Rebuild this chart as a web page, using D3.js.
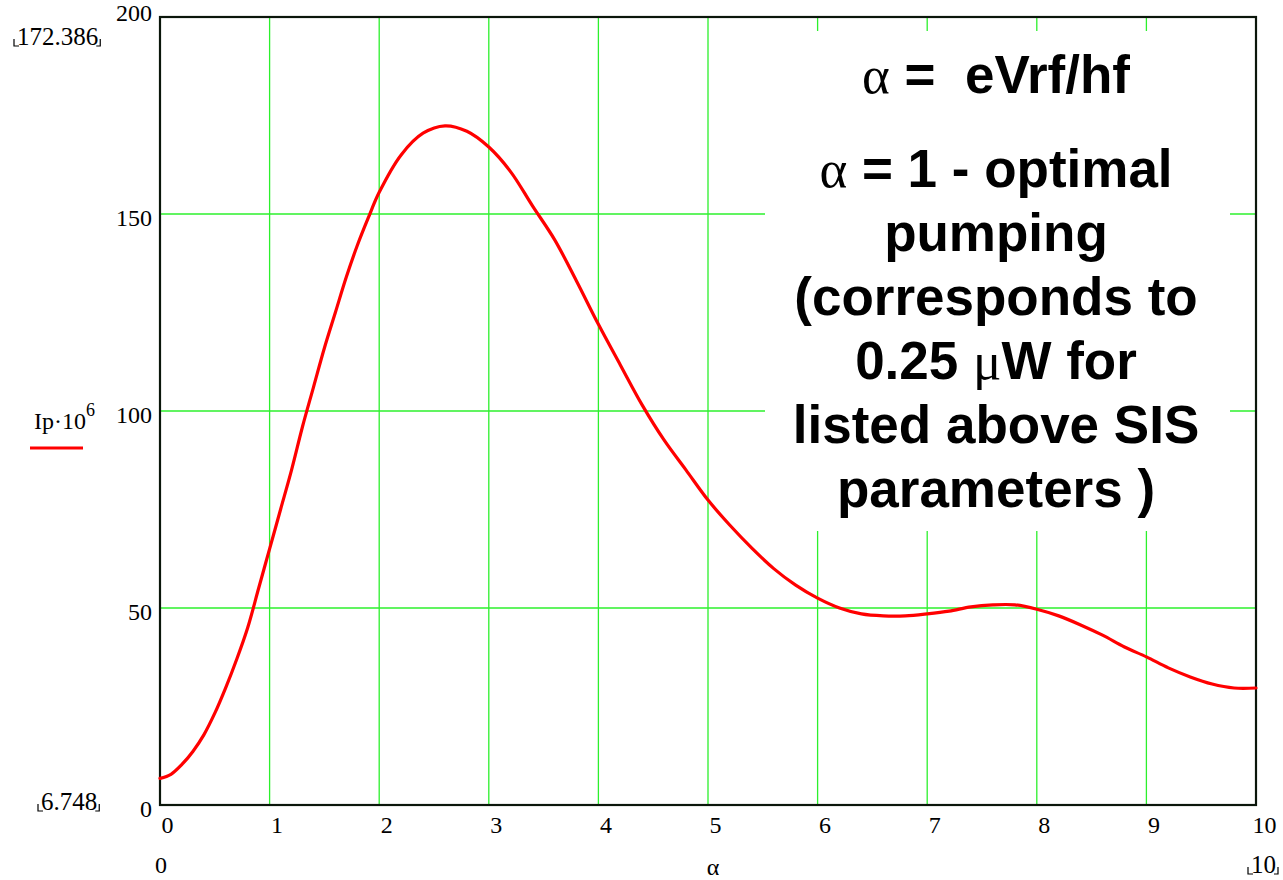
<!DOCTYPE html>
<html>
<head>
<meta charset="utf-8">
<script src="https://cdn.jsdelivr.net/npm/d3@7/dist/d3.min.js"></script>
<style>
  html, body { margin: 0; padding: 0; background: #fff; }
  svg { display: block; }
</style>
</head>
<body>
<svg id="chart" width="1283" height="880"></svg>
<script>
// Pump-parameter sweep: alpha = eVrf/hf and the pumped current Ip·10^6
const alphaValues = [0, 0.1, 0.2, 0.3, 0.4, 0.5, 0.6, 0.7, 0.8, 0.9, 1.0, 1.1, 1.2, 1.3, 1.4, 1.5, 1.6,
  1.7, 1.8, 1.9, 2.0, 2.2, 2.4, 2.6, 2.8, 3.0, 3.2, 3.4, 3.6, 3.8, 4.0, 4.2, 4.4, 4.6, 4.8, 5.0, 5.2, 5.4,
  5.6, 5.8, 6.0, 6.2, 6.4, 6.6, 6.8, 7.0, 7.2, 7.4, 7.6, 7.8, 8.0, 8.2, 8.4, 8.6, 8.8, 9.0,
  9.2, 9.4, 9.6, 9.8, 10];
const ipValues = [6.748, 7.8, 10.3, 13.6, 17.8, 23.3, 29.8, 37, 45, 55, 65, 75, 85, 96, 106, 116, 125,
  134, 142, 149, 155.5, 165, 170.5, 172.386, 171, 167, 160.7, 152, 143.5, 133, 122, 111.7, 101.5, 92.6,
  85, 77.4, 71, 65.2, 60, 55.8, 52.5, 50, 48.5, 48, 48, 48.5, 49.2, 50.3, 50.8, 50.8, 49.7, 48, 45.7,
  43.1, 40.1, 37.6, 34.8, 32.5, 30.7, 29.7, 29.7];
const xTicks = [0, 1, 2, 3, 4, 5, 6, 7, 8, 9, 10];
const yTicks = [0, 50, 100, 150, 200];
const noteLines = ["α = 1 - optimal", "pumping", "(corresponds to", "0.25 μW for",
  "listed above SIS", "parameters )"];

const svg = d3.select("#chart");
const plotLeft = 160, plotRight = 1256, plotTop = 17, plotBottom = 805;

const x = d3.scaleLinear().domain([0, 10]).range([plotLeft, plotRight]);
const y = d3.scaleLinear().domain([0, 200]).range([plotBottom, plotTop]);

const serif = "'Liberation Serif', 'Times New Roman', serif";
const sans = "'Liberation Sans', Arial, sans-serif";

// grid
const grid = svg.append("g").attr("stroke", "#2cf02c").attr("stroke-width", 1.3);
grid.selectAll("line.v").data(xTicks.slice(1, -1)).join("line").attr("class", "v")
  .attr("x1", d => x(d)).attr("x2", d => x(d)).attr("y1", plotTop).attr("y2", plotBottom);
grid.selectAll("line.h").data(yTicks.slice(1, -1)).join("line").attr("class", "h")
  .attr("x1", plotLeft).attr("x2", plotRight).attr("y1", d => y(d)).attr("y2", d => y(d));

// axes: labels only, the frame is drawn separately
const xAxis = d3.axisBottom(x).tickValues(xTicks).tickSize(0).tickPadding(0);
const gx = svg.append("g").attr("transform", `translate(0,${plotBottom})`).call(xAxis);
gx.select(".domain").remove();
gx.selectAll("text").attr("font-family", serif).attr("font-size", 24).attr("fill", "#000")
  .attr("text-anchor", "start").attr("dy", null).attr("y", 28)
  .attr("x", d => d === 10 ? -4 : 1);

const yAxis = d3.axisLeft(y).tickValues(yTicks).tickSize(0).tickPadding(0);
const gy = svg.append("g").attr("transform", `translate(${plotLeft - 8},0)`).call(yAxis);
gy.select(".domain").remove();
gy.selectAll("text").attr("font-family", serif).attr("font-size", 24).attr("fill", "#000")
  .attr("text-anchor", "end").attr("dy", null)
  .attr("y", d => d === 200 ? 3 : 11);

// frame
svg.append("rect").attr("x", plotLeft).attr("y", plotTop)
  .attr("width", plotRight - plotLeft).attr("height", plotBottom - plotTop)
  .attr("fill", "none").attr("stroke", "#0b160b").attr("stroke-width", 2.2);

// curve
const line = d3.line().x((d, i) => x(alphaValues[i])).y(d => y(d)).curve(d3.curveCatmullRom);
svg.append("path").datum(ipValues).attr("d", line)
  .attr("fill", "none").attr("stroke", "#ff0000").attr("stroke-width", 3.2)
  .attr("stroke-linejoin", "round").attr("stroke-linecap", "round");

// annotation box
svg.append("rect").attr("x", 765).attr("y", 31).attr("width", 465).attr("height", 500).attr("fill", "#fff");
const cx = 996;
const fs = 53;
const t1 = svg.append("text").attr("x", cx).attr("y", 93).attr("text-anchor", "middle")
  .attr("font-size", fs).attr("fill", "#000");
t1.append("tspan").attr("font-family", serif).text("α");
t1.append("tspan").attr("font-family", sans).attr("font-weight", "bold")
  .style("white-space", "pre").text(" =  eVrf/hf");

noteLines.forEach((s, i) => {
  const t = svg.append("text").attr("x", cx).attr("y", 187 + 64 * i).attr("text-anchor", "middle")
    .attr("font-size", fs).attr("fill", "#000").attr("font-family", sans).attr("font-weight", "bold");
  const parts = s.split(/([αμ])/);
  parts.forEach(p => {
    if (p === "") return;
    const ts = t.append("tspan").text(p);
    if (p === "α" || p === "μ") ts.attr("font-family", serif).attr("font-weight", "normal");
  });
});

// legend
const leg = svg.append("text").attr("x", 34).attr("y", 429).attr("font-family", serif)
  .attr("font-size", 24).attr("fill", "#000");
leg.append("tspan").text("Ip·10");
leg.append("tspan").attr("font-size", 18).attr("dy", -13).text("6");
svg.append("line").attr("x1", 30).attr("x2", 83).attr("y1", 448).attr("y2", 448)
  .attr("stroke", "#ff0000").attr("stroke-width", 3);

// range markers
function marker(tx, ty, label) {
  const t = svg.append("text").attr("x", tx).attr("y", ty).attr("font-family", serif)
    .attr("font-size", 25).attr("fill", "#000").text(label);
  const b = t.node().getBBox();
  const g = svg.append("g").attr("stroke", "#000").attr("stroke-width", 1.2).attr("fill", "none");
  g.append("path").attr("d", `M${b.x - 3},${ty - 6}V${ty + 1}H${b.x + 2}`);
  g.append("path").attr("d", `M${b.x + b.width - 2},${ty + 1}H${b.x + b.width + 2}V${ty - 6}`);
}
marker(17, 45, d3.max(ipValues).toFixed(3));
marker(41, 810, d3.min(ipValues).toFixed(3));
marker(1251, 873, String(d3.max(alphaValues)));
svg.append("text").attr("x", 155).attr("y", 873).attr("font-family", serif).attr("font-size", 24)
  .attr("fill", "#000").text(String(d3.min(alphaValues)));

// axis title
svg.append("text").attr("x", 713).attr("y", 875).attr("text-anchor", "middle")
  .attr("font-family", serif).attr("font-size", 24).attr("fill", "#000").text("α");
</script>
</body>
</html>
